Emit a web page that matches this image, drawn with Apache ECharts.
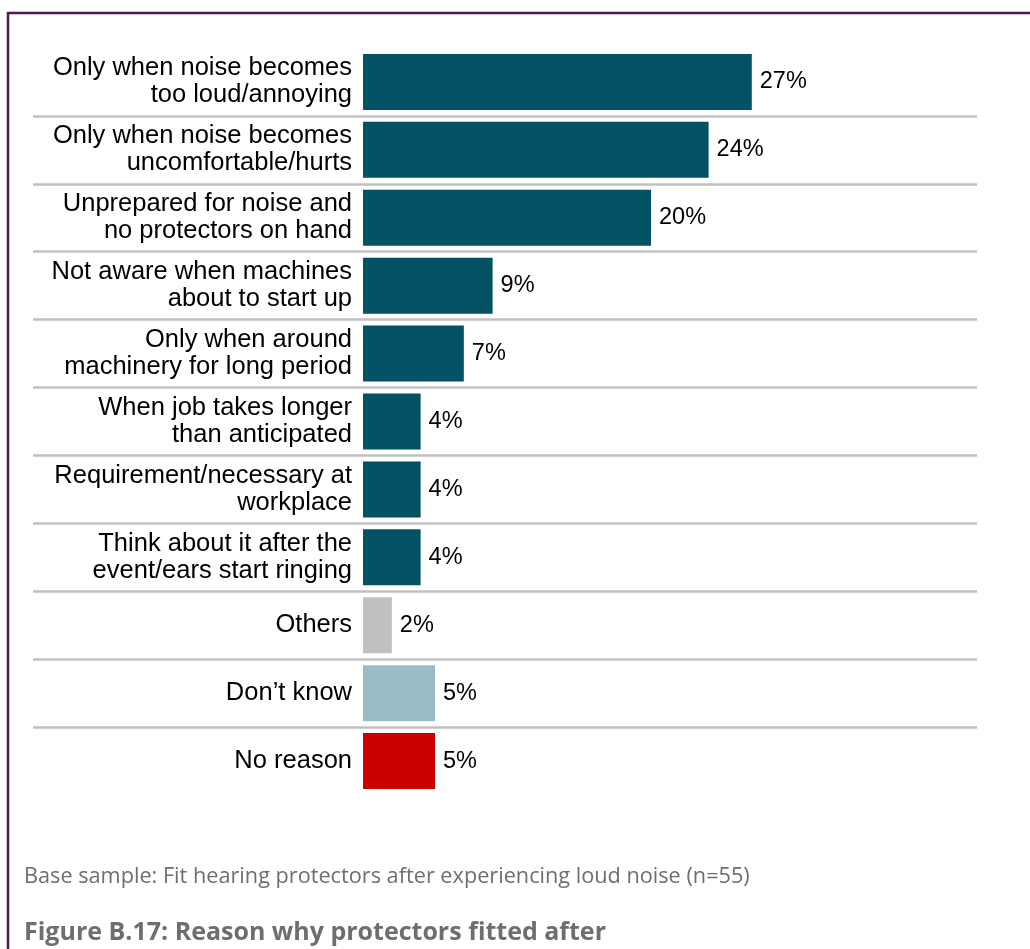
<!DOCTYPE html>
<html>
<head>
<meta charset="utf-8">
<script src="https://cdn.jsdelivr.net/npm/echarts@6/dist/echarts.min.js"></script>
<style>
  html, body { margin: 0; padding: 0; background: #ffffff; }
  #chart { width: 1030px; height: 949px; }
</style>
</head>
<body>
<div id="chart"></div>
<script>
const categories = [
  'Only when noise becomes\ntoo loud/annoying',
  'Only when noise becomes\nuncomfortable/hurts',
  'Unprepared for noise and\nno protectors on hand',
  'Not aware when machines\nabout to start up',
  'Only when around\nmachinery for long period',
  'When job takes longer\nthan anticipated',
  'Requirement/necessary at\nworkplace',
  'Think about it after the\nevent/ears start ringing',
  'Others',
  'Don\u2019t know',
  'No reason'
];
const values = [27, 24, 20, 9, 7, 4, 4, 4, 2, 5, 5];
const barColors = [
  '#035264', '#035264', '#035264', '#035264', '#035264', '#035264',
  '#035264', '#035264', '#c0c0c0', '#9bbbc7', '#cc0000'
];
const baseText = 'Base sample: Fit hearing protectors after experiencing loud noise (n=55)';
const figureTitle = 'Figure B.17: Reason why protectors fitted after';

const chart = echarts.init(document.getElementById('chart'), null, { renderer: 'canvas' });

const option = {
  backgroundColor: '#ffffff',
  animation: false,
  title: [
    {
      text: baseText,
      left: 19,
      top: 861,
      textStyle: { fontFamily: 'Open Sans', fontSize: 21.7, fontWeight: 'normal', color: '#6d6e71' }
    },
    {
      text: figureTitle,
      left: 19,
      top: 915,
      textStyle: { fontFamily: 'Open Sans', fontSize: 25, fontWeight: 'bold', color: '#6d6e71' }
    }
  ],
  graphic: [
    {
      type: 'polyline',
      shape: { points: [[8, 949], [8, 13], [1030, 13]] },
      style: { stroke: '#4e1a52', lineWidth: 2.5, fill: null },
      silent: true
    }
  ],
  grid: { left: 33, right: 53, top: 48, bottom: 154, containLabel: false },
  xAxis: {
    type: 'value',
    min: -22.92,
    max: 42.64,
    show: false,
    splitLine: { show: false }
  },
  yAxis: {
    type: 'category',
    data: categories,
    inverse: true,
    axisLine: { show: false },
    axisTick: { show: false },
    axisLabel: {
      interval: 0,
      margin: -319,
      align: 'right',
      fontFamily: 'Liberation Sans',
      fontSize: 25.5,
      lineHeight: 27,
      color: '#000000',
      padding: [0, 0, 4, 0]
    },
    splitLine: {
      show: true,
      interval: 0,
      showMinLine: false,
      showMaxLine: false,
      lineStyle: { color: '#c0c0c0', width: 2.5 }
    }
  },
  series: [
    {
      type: 'bar',
      barWidth: 56,
      data: values.map((v, i) => ({ value: v, itemStyle: { color: barColors[i] } })),
      label: {
        show: true,
        position: 'right',
        distance: 8,
        formatter: '{c}%',
        fontFamily: 'Liberation Sans',
        fontSize: 23.5,
        color: '#000000',
        padding: [3, 0, 0, 0]
      }
    }
  ]
};
chart.setOption(option);
</script>
</body>
</html>
